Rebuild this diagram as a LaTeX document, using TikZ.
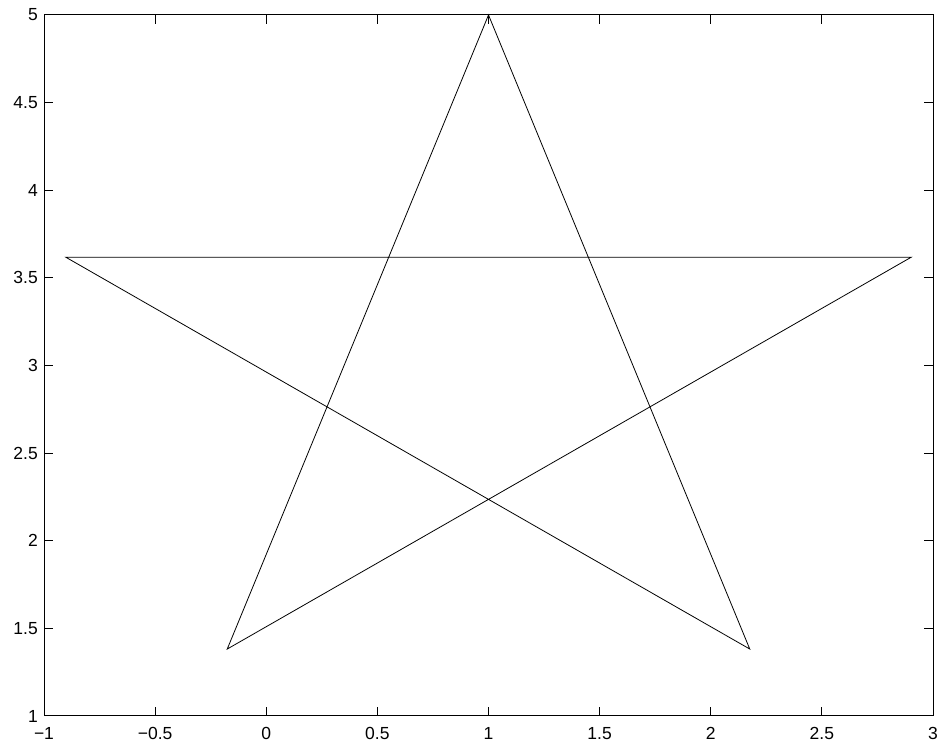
\documentclass[tikz,border=0pt]{standalone}
\usepackage{fontspec}
\setmainfont{Liberation Sans}
\begin{document}
\begin{tikzpicture}[x=1pt,y=1pt,
  axisline/.style={line width=1pt, line cap=rect},
  tickline/.style={line width=0.8pt},
  starline/.style={line width=0.8pt, line join=miter},
  ticklabel/.style={inner sep=0pt, font=\fontsize{17.5}{19}\selectfont}]
\useasboundingbox (0,0) rectangle (940,746);
\begin{scope}[shift={(266.25,-145.25)}, x=222.25pt, y=175.25pt]
  % pentagram vertices
  \coordinate (top) at (1,5);
  \coordinate (br) at (2.17557,1.38197);
  \coordinate (l) at (-0.90211,3.61803);
  \coordinate (r) at (2.90211,3.61803);
  \coordinate (bl) at (-0.17557,1.38197);
  % axes corners
  \coordinate (ll) at (-1,1);
  \coordinate (ur) at (3,5);
  \draw[starline] (top) -- (br) -- (l) -- (r) -- (bl) -- cycle;
  % ticks
  \foreach \x in {-0.5,0,0.5,1,1.5,2,2.5} {
    \draw[tickline] (\x,1) -- ++(0,9pt);
    \draw[tickline] (\x,5) -- ++(0,-9pt);
  }
  \foreach \y in {1.5,2,2.5,3,3.5,4,4.5} {
    \draw[tickline] (-1,\y) -- ++(9pt,0);
    \draw[tickline] (3,\y) -- ++(-9pt,0);
  }
  % tick labels
  \foreach \x/\t in {-1/−1,-0.5/−0.5,0/0,0.5/0.5,1/1,1.5/1.5,2/2,2.5/2.5,3/3}
    \node[ticklabel, anchor=north] (xl\x) at ([yshift=-11pt]\x,1) {\t};
  \foreach \y in {1,1.5,2,2.5,3,3.5,4,4.5,5}
    \node[ticklabel, anchor=east] (yl\y) at ([xshift=-6pt]-1,\y) {\y};
  \draw[axisline] (ll) rectangle (ur);
\end{scope}
\end{tikzpicture}
\end{document}
